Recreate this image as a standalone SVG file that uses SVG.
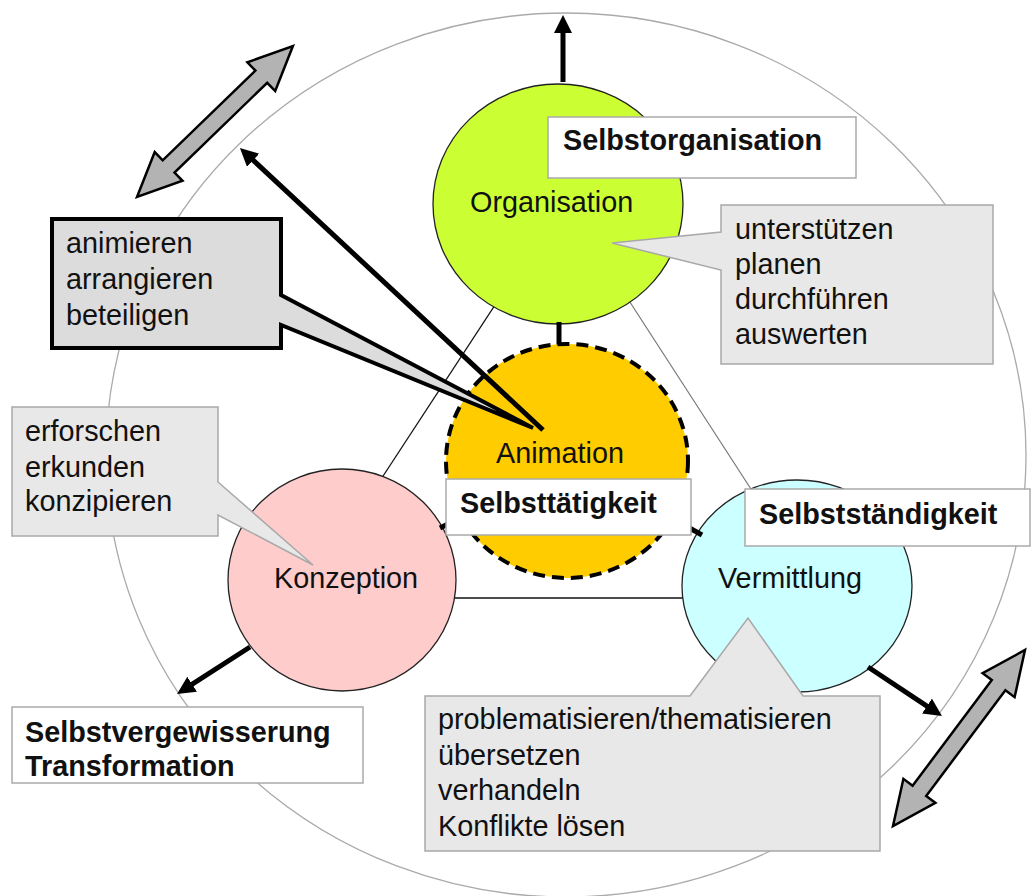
<svg xmlns="http://www.w3.org/2000/svg" width="1031" height="896" viewBox="0 0 1031 896">
<defs>
<style>
text{font-family:"Liberation Sans",Arial,sans-serif;font-size:28.8px;fill:#111}
.b{font-weight:bold}
.lbl{fill:#fff;stroke:#aaa;stroke-width:1.5}
.call{fill:#e8e8e8;stroke:#a8a8a8;stroke-width:1.5}
.thin{stroke:#111;stroke-width:1.3;fill:none}
.thick{stroke:#000;stroke-width:5;fill:none}
.arr{stroke:#000;stroke-width:5;fill:none;marker-end:url(#ah)}
.block{fill:#b3b3b3;stroke:#000;stroke-width:2.5;stroke-linejoin:miter}
</style>
<marker id="ah" markerUnits="userSpaceOnUse" markerWidth="20" markerHeight="20" refX="4" refY="9" orient="auto">
<path d="M0,0 L18,9 L0,18 Z" fill="#000"/>
</marker>
</defs>
<rect width="1031" height="896" fill="#fff"/>
<ellipse id="outer" cx="566" cy="455" rx="460" ry="442" fill="none" stroke="#aaa" stroke-width="1.3"/>
<g id="connectors">
<line class="thin" x1="510" y1="282" x2="370" y2="496"/>
<line x1="615" y1="279" x2="760" y2="503" stroke="#777" stroke-width="1.2"/>
<line class="thin" x1="400" y1="598" x2="740" y2="598"/>
</g>
<g id="organisation">
<ellipse cx="558" cy="204" rx="125" ry="120" fill="#ccff33" stroke="#222" stroke-width="1.3"/>
<text x="470" y="212">Organisation</text>
</g>
<g id="konzeption">
<ellipse cx="342" cy="580" rx="114" ry="111" fill="#ffcccc" stroke="#222" stroke-width="1.3"/>
<text x="274" y="588">Konzeption</text>
</g>
<g id="vermittlung">
<ellipse cx="797" cy="586" rx="115" ry="106" fill="#ccffff" stroke="#222" stroke-width="1.3"/>
<text x="718" y="588">Vermittlung</text>
</g>
<g id="links">
<line class="thick" x1="559" y1="322" x2="559" y2="346"/>
<line class="thick" x1="464" y1="516" x2="440" y2="528"/>
<line class="thick" x1="670" y1="517" x2="702" y2="535"/>
</g>
<g id="animation">
<ellipse cx="567" cy="461" rx="121" ry="117" fill="#ffcc00" stroke="#000" stroke-width="4" stroke-dasharray="12 7"/>
<text x="496" y="463">Animation</text>
</g>
<g id="arrows">
<line class="arr" x1="563" y1="82" x2="563" y2="29"/>
<line class="arr" x1="543" y1="430" x2="250.2" y2="157.5"/>
<line class="arr" x1="250" y1="647" x2="188.8" y2="686.4"/>
<line class="arr" x1="868" y1="667" x2="930.3" y2="708.3"/>
<polygon class="block" transform="translate(137,197) rotate(-44.07)" points="0,0 44,-20 44,-8.5 173,-8.5 173,-20 217,0 173,20 173,8.5 44,8.5 44,20"/>
<polygon class="block" transform="translate(893,826) rotate(-53.13)" points="0,0 44,-20 44,-8.5 176,-8.5 176,-20 220,0 176,20 176,8.5 44,8.5 44,20"/>
</g>
<g id="callout-animieren">
<path d="M52,219 H281 V295 L533,428 L281,325 V348 H52 Z" fill="#dcdcdc" stroke="#000" stroke-width="4" stroke-linejoin="miter"/>
<text x="66" y="253">animieren</text>
<text x="66" y="289">arrangieren</text>
<text x="66" y="325">beteiligen</text>
</g>
<g id="callout-unterstuetzen">
<path class="call" d="M721,205 H993 V364 H721 V270 L612,243 L721,232 Z"/>
<text x="735" y="239">unterstützen</text>
<text x="735" y="274">planen</text>
<text x="735" y="309">durchführen</text>
<text x="735" y="344">auswerten</text>
</g>
<g id="callout-erforschen">
<path class="call" d="M12,407 H218 V482 L313,565 L218,515 V536 H12 Z"/>
<text x="25" y="441">erforschen</text>
<text x="25" y="477">erkunden</text>
<text x="25" y="511">konzipieren</text>
</g>
<g id="callout-problematisieren">
<path class="call" d="M425,696 H690 L748,618 L803,696 H880 V851 H425 Z"/>
<text x="438" y="729">problematisieren/thematisieren</text>
<text x="438" y="765">übersetzen</text>
<text x="438" y="800">verhandeln</text>
<text x="438" y="836">Konflikte lösen</text>
</g>
<g id="label-selbstorganisation">
<rect class="lbl" x="548" y="117" width="308" height="61"/>
<text class="b" x="563" y="150">Selbstorganisation</text>
</g>
<g id="label-selbsttaetigkeit">
<rect class="lbl" x="446" y="479" width="245" height="56"/>
<text class="b" x="460" y="513">Selbsttätigkeit</text>
</g>
<g id="label-selbststaendigkeit">
<rect class="lbl" x="745" y="489" width="285" height="57"/>
<text class="b" x="759" y="524">Selbstständigkeit</text>
</g>
<g id="label-selbstvergewisserung">
<rect class="lbl" x="12" y="707" width="351" height="76"/>
<text class="b" x="25" y="742">Selbstvergewisserung</text>
<text class="b" x="25" y="776">Transformation</text>
</g>
</svg>
